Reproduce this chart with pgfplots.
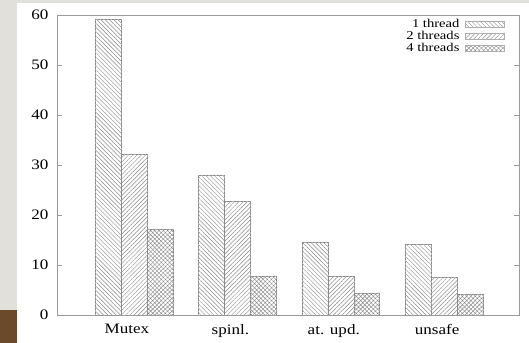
\documentclass[border=0pt]{standalone}
\usepackage{fontspec}
\setmainfont{Liberation Serif}
\usepackage{graphicx}
\usepackage{pgfplots}
\pgfplotsset{compat=1.18}
\usetikzlibrary{patterns.meta}
\definecolor{bg}{HTML}{E2E0DB}
\definecolor{wood}{HTML}{6B4A2B}
\definecolor{axgray}{HTML}{9A9A9A}
\definecolor{patgray}{HTML}{8A8A8A}
\begin{document}
\begin{tikzpicture}
\fill[bg] (-57bp,-28bp) rectangle (472bp,315bp);
\fill[wood] (-57bp,-28bp) rectangle (-40bp,5bp);
\fill[white] (-40bp,-28bp) rectangle (472bp,312bp);
\begin{axis}[
  at={(0,0)}, anchor=south west,
  scale only axis, width=462bp, height=300bp,
  xmin=-0.745, xmax=3.723, ymin=0, ymax=60,
  ybar,
  ytick={0,10,...,60},
  xtick={0,1,2,3},
  xticklabels={Mutex,spinl.,at. upd.,unsafe},
  axis line style={axgray, line width=0.8pt},
  every tick/.style={axgray, line width=0.6pt},
  major tick length=5bp,
  tick align=inside,
  ytick pos=both,
  xtick pos=bottom,
  x tick style={draw=none},
  /pgf/number format/assume math mode=true,
  tick label style={font=\fontsize{14.5}{16}\selectfont, xscale=1.18, text=black},
  yticklabel style={inner sep=0pt, xshift=-7bp},
  xticklabel style={inner sep=0pt, yshift=-9bp, xshift=-6bp},
  legend plot pos=right,
  legend cell align=right,
  legend image code/.code={\draw[#1] (0bp,-3bp) rectangle (39bp,3bp);},
  legend style={at={(1,1)}, anchor=north east, xshift=-11bp, yshift=-3bp,
    draw=none, fill=none, row sep=3bp, column sep=6bp,
    font=\fontsize{12}{13}\selectfont,
    nodes={inner sep=0pt, text height=7.5bp, text depth=1.5bp}},
  every axis plot/.append style={draw=patgray!70, line width=0.4pt, bar width=0.25},
]
\addplot[bar shift=-0.25, pattern={Lines[angle=-45, distance=3bp, line width=0.45pt]}, pattern color=patgray] coordinates {(0,59.2) (1,28.0) (2,14.6) (3,14.2)};
\addplot[bar shift=0, pattern={Lines[angle=45, distance=3bp, line width=0.45pt]}, pattern color=patgray] coordinates {(0,32.2) (1,22.7) (2,7.7) (3,7.5)};
\addplot[bar shift=0.25, pattern={Hatch[angle=45, distance=3bp, line width=0.45pt]}, pattern color=patgray] coordinates {(0,17.2) (1,7.8) (2,4.3) (3,4.2)};
\legend{\scalebox{1.22}[1]{1 thread},\scalebox{1.22}[1]{2 threads},\scalebox{1.22}[1]{4 threads}}
\addplot[forget plot, bar shift=-0.25, fill=none, draw=patgray, dash pattern=on 2bp off 1.5bp] coordinates {(0,59.2) (1,28.0) (2,14.6) (3,14.2)};
\addplot[forget plot, bar shift=0, fill=none, draw=patgray, dash pattern=on 2bp off 1.5bp] coordinates {(0,32.2) (1,22.7) (2,7.7) (3,7.5)};
\addplot[forget plot, bar shift=0.25, fill=none, draw=patgray, dash pattern=on 2bp off 1.5bp] coordinates {(0,17.2) (1,7.8) (2,4.3) (3,4.2)};
\end{axis}
\end{tikzpicture}
\end{document}
